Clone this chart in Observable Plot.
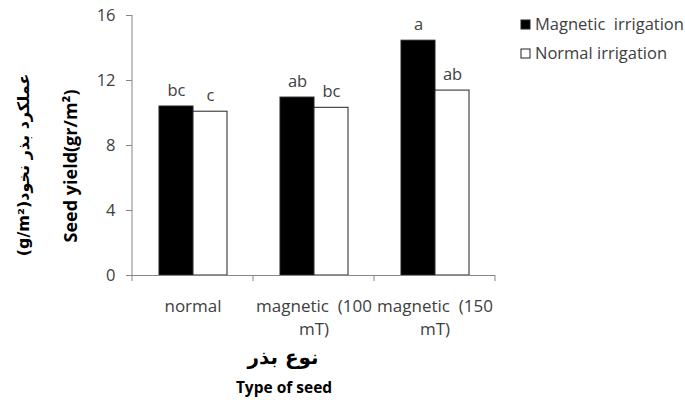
<!DOCTYPE html>
<html>
<head>
<meta charset="utf-8">
<script src="https://cdn.jsdelivr.net/npm/d3@7"></script>
<script src="https://cdn.jsdelivr.net/npm/@observablehq/plot@0.6"></script>
<style>
  html, body { margin: 0; padding: 0; background: white; }
  #chart svg { display: block; }
  #chart svg text, #chart svg tspan { white-space: pre; }
</style>
</head>
<body>
<div id="chart"></div>
<script>
const categories = ["normal", "magnetic (100 mT)", "magnetic (150 mT)"];
const categoryLabels = ["normal", "magnetic  (100\nmT)", "magnetic  (150\nmT)"];
const series = ["Magnetic  irrigation", "Normal irrigation"];
const magneticValues = [10.4, 10.95, 14.45];
const normalValues = [10.08, 10.32, 11.38];
const magneticLetters = ["bc", "ab", "a"];
const normalLetters = ["c", "bc", "ab"];
const yTicks = [0, 4, 8, 12, 16];
const yLabel = "Seed yield(gr/m²)";
const yLabelFa = "(g/m²)عملکرد بذر نخود";
const xTitleFa = "نوع بذر";
const xTitle = "Type of seed";

const rows = [];
categories.forEach((c, i) => {
  rows.push({cat: c, series: series[0], value: magneticValues[i], letter: magneticLetters[i]});
  rows.push({cat: c, series: series[1], value: normalValues[i], letter: normalLetters[i]});
});

const axisGray = "#868686";
const textGray = "#404040";
const font = "'Open Sans', sans-serif";

const plot = Plot.plot({
  width: 685,
  height: 400,
  marginLeft: 131,
  marginRight: 190,
  marginTop: 15,
  marginBottom: 125,
  style: {fontFamily: font, fontSize: "16px", color: textGray, background: "white", overflow: "visible"},
  fx: {domain: categories, padding: 0, label: null, axis: null},
  x: {domain: series, paddingInner: 0, paddingOuter: 0.75, axis: null},
  y: {domain: [0, 16], axis: null},
  color: {domain: series, range: ["black", "white"]},
  marks: [
    Plot.barY(rows, {fx: "cat", x: "series", y: "value", fill: "series", stroke: "#222", strokeWidth: 1}),
    Plot.ruleY([0], {stroke: axisGray}),
    Plot.axisY({ticks: yTicks, tickSize: 6, tickPadding: 11, stroke: axisGray, fill: textGray, label: null, fontSize: 16.5}),
    Plot.text(rows, {fx: "cat", x: "series", y: "value", text: "letter", dy: -11, lineAnchor: "bottom", fill: textGray, fontSize: 16.5}),
    Plot.axisFx({anchor: "bottom", tickSize: 0, tickPadding: 20, label: null, fill: textGray, fontSize: 17, lineHeight: 1.35,
      tickFormat: d => categoryLabels[categories.indexOf(d)]})
  ]
});

document.getElementById("chart").appendChild(plot);

const svg = d3.select(plot);
const fx = plot.scale("fx");
const y = plot.scale("y");
const y0 = y.apply(0);
const yTop = y.apply(16);
const left = fx.apply(categories[0]);

// y axis line
svg.append("line").attr("x1", left).attr("x2", left).attr("y1", yTop).attr("y2", y0 + 6)
  .attr("stroke", axisGray);
// category boundary ticks
categories.forEach(c => {
  const xr = fx.apply(c) + fx.bandwidth;
  svg.append("line").attr("x1", xr).attr("x2", xr).attr("y1", y0).attr("y2", y0 + 6).attr("stroke", axisGray);
});

// y labels
svg.append("text").attr("transform", `translate(77,${(yTop + y0) / 2 + 21}) rotate(-90)`)
  .attr("text-anchor", "middle").attr("font-weight", "bold").attr("font-size", 18)
  .attr("font-family", font).attr("fill", "black").text(yLabel);
svg.append("text").attr("transform", `translate(29,${(yTop + y0) / 2 + 20}) rotate(-90)`)
  .attr("text-anchor", "middle").attr("font-weight", "bold").attr("font-size", 16)
  .attr("font-family", "'DejaVu Sans', sans-serif").attr("fill", "black").text(yLabelFa);

// x titles
svg.append("text").attr("x", 283).attr("y", 364).attr("text-anchor", "middle")
  .attr("font-weight", "bold").attr("font-size", 20).attr("font-family", "'DejaVu Sans', sans-serif")
  .attr("fill", "black").text(xTitleFa);
svg.append("text").attr("x", 284).attr("y", 393).attr("text-anchor", "middle")
  .attr("font-weight", "bold").attr("font-size", 15.5).attr("font-family", font)
  .attr("fill", "black").text(xTitle);

// legend
const color = plot.scale("color");
series.forEach((s, i) => {
  const yy = 20 + i * 29;
  svg.append("rect").attr("x", 521).attr("y", yy).attr("width", 9).attr("height", 9)
    .attr("fill", color.apply(s)).attr("stroke", "#222");
  svg.append("text").attr("x", 535).attr("y", yy + 10).attr("font-size", 16.5)
    .attr("text-anchor", "start")
    .attr("font-family", font).attr("fill", textGray).text(s);
});
</script>
</body>
</html>
